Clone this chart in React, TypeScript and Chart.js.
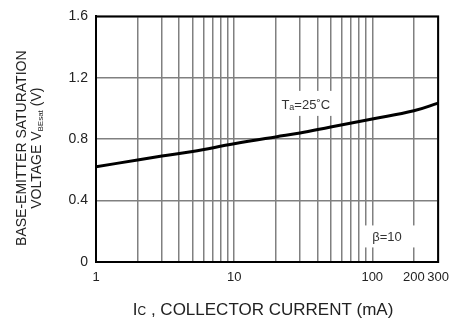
import React, { useEffect, useRef } from "react";
import { Chart, registerables } from "chart.js";

Chart.register(...registerables);

// Collector current (mA) and base-emitter saturation voltage (V)
const IC_MA = [1, 2, 3, 5, 10, 20, 30, 50, 100, 200, 300];
const VBE_SAT = [0.62, 0.665, 0.69, 0.72, 0.77, 0.815, 0.84, 0.88, 0.932, 0.985, 1.035];

const X_GRID = [1, 2, 3, 4, 5, 6, 7, 8, 9, 10, 20, 30, 40, 50, 60, 70, 80, 90, 100, 200, 300];
const X_LABELS = [1, 10, 100, 200, 300];
const Y_TICKS = [0, 0.4, 0.8, 1.2, 1.6];

const FONT = "'Liberation Sans', Arial, sans-serif";

// annotation anchors in data coordinates
const TA_POS = { x: 33, y: 1.03 };
const BETA_POS = { x: 128, y: 0.16 };

const annotationPlugin = {
  id: "annotations",
  afterDraw(chart: any) {
    const { ctx, chartArea, scales } = chart;
    const xs = scales.x;
    const ys = scales.y;
    ctx.save();

    // full frame border
    ctx.strokeStyle = "#000";
    ctx.lineWidth = 2;
    ctx.strokeRect(chartArea.left, chartArea.top, chartArea.right - chartArea.left, chartArea.bottom - chartArea.top);

    // Ta=25˚C label
    {
      const cx = xs.getPixelForValue(TA_POS.x);
      const cy = ys.getPixelForValue(TA_POS.y);
      ctx.fillStyle = "#fff";
      ctx.fillRect(cx - 25, cy - 13, 52, 25);
      ctx.fillStyle = "#333";
      ctx.textBaseline = "alphabetic";
      ctx.textAlign = "left";
      const big = `13px ${FONT}`;
      const small = `9px ${FONT}`;
      ctx.font = big;
      const wT = ctx.measureText("T").width;
      const wRest = ctx.measureText("=25˚C").width;
      ctx.font = small;
      const wa = ctx.measureText("a").width;
      const total = wT + wa + wRest;
      let x = cx - total / 2;
      const base = cy + 5;
      ctx.font = big;
      ctx.fillText("T", x, base);
      x += wT;
      ctx.font = small;
      ctx.fillText("a", x, base + 1);
      x += wa;
      ctx.font = big;
      ctx.fillText("=25˚C", x, base);
    }

    // β=10 label
    {
      const cx = xs.getPixelForValue(BETA_POS.x);
      const cy = ys.getPixelForValue(BETA_POS.y);
      ctx.fillStyle = "#fff";
      ctx.fillRect(cx - 27, cy - 12, 57, 22);
      ctx.fillStyle = "#333";
      ctx.font = `13px ${FONT}`;
      ctx.textAlign = "center";
      ctx.textBaseline = "middle";
      ctx.fillText("β=10", cx, cy);
    }

    // Y axis title (two lines, rotated)
    {
      const cy = (chartArea.top + chartArea.bottom) / 2 + 9;
      ctx.fillStyle = "#222";
      ctx.save();
      ctx.translate(26, cy);
      ctx.rotate(-Math.PI / 2);
      ctx.font = `14px ${FONT}`;
      ctx.textAlign = "center";
      ctx.textBaseline = "alphabetic";
      ctx.fillText("BASE-EMITTER SATURATION", 0, 0);
      ctx.restore();

      ctx.save();
      ctx.translate(41, cy);
      ctx.rotate(-Math.PI / 2);
      ctx.textAlign = "left";
      ctx.textBaseline = "alphabetic";
      const big = `14px ${FONT}`;
      const small = `8px ${FONT}`;
      ctx.font = big;
      const w1 = ctx.measureText("VOLTAGE V").width;
      const w3 = ctx.measureText(" (V)").width;
      ctx.font = small;
      const w2 = ctx.measureText("BEsat").width;
      let x = -(w1 + w2 + w3) / 2;
      ctx.font = big;
      ctx.fillText("VOLTAGE V", x, 0);
      x += w1;
      ctx.font = small;
      ctx.fillText("BEsat", x, 2);
      x += w2;
      ctx.font = big;
      ctx.fillText(" (V)", x, 0);
      ctx.restore();
    }

    // X axis title
    {
      const cx = (chartArea.left + chartArea.right) / 2 - 4;
      const base = 315;
      ctx.fillStyle = "#222";
      ctx.textAlign = "left";
      ctx.textBaseline = "alphabetic";
      const big = `17px ${FONT}`;
      const small = `12px ${FONT}`;
      ctx.font = big;
      const w1 = ctx.measureText("I").width;
      const w3 = ctx.measureText(" , COLLECTOR CURRENT (mA)").width;
      ctx.font = small;
      const w2 = ctx.measureText("C").width;
      let x = cx - (w1 + w2 + w3) / 2;
      ctx.font = big;
      ctx.fillText("I", x, base);
      x += w1;
      ctx.font = small;
      ctx.fillText("C", x, base);
      x += w2;
      ctx.font = big;
      ctx.fillText(" , COLLECTOR CURRENT (mA)", x, base);
    }

    ctx.restore();
  },
};

export default function App() {
  const canvasRef = useRef<HTMLCanvasElement | null>(null);

  useEffect(() => {
    document.body.style.margin = "0";
    const canvas = canvasRef.current;
    if (!canvas) return;
    const chart = new Chart(canvas, {
      type: "line",
      data: {
        datasets: [
          {
            data: IC_MA.map((x, i) => ({ x, y: VBE_SAT[i] })),
            borderColor: "#000",
            borderWidth: 3,
            pointRadius: 0,
            tension: 0.4,
            fill: false,
          },
        ],
      },
      options: {
        responsive: false,
        animation: false,
        devicePixelRatio: 1,
        layout: { padding: { top: 14, right: 16, left: 0, bottom: 0 } },
        plugins: {
          legend: { display: false },
          tooltip: { enabled: false },
        },
        scales: {
          x: {
            type: "logarithmic",
            min: 1,
            max: 300,
            afterBuildTicks: (scale: any) => {
              scale.ticks = X_GRID.map((v) => ({ value: v }));
            },
            afterFit: (scale: any) => {
              scale.height = 58;
            },
            ticks: {
              autoSkip: false,
              maxRotation: 0,
              padding: 8,
              color: "#222",
              font: { family: FONT, size: 13 },
              callback: (v: any) => (X_LABELS.includes(Number(v)) ? String(v) : ""),
            },
            grid: {
              color: "#808080",
              lineWidth: 1.5,
              drawTicks: false,
            },
            border: { color: "#000", width: 2 },
          },
          y: {
            type: "linear",
            min: 0,
            max: 1.6,
            afterBuildTicks: (scale: any) => {
              scale.ticks = Y_TICKS.map((v) => ({ value: v }));
            },
            afterFit: (scale: any) => {
              scale.width = 96;
            },
            ticks: {
              padding: 8,
              color: "#222",
              font: { family: FONT, size: 14 },
              callback: (v: any) => (Number(v) === 0 ? "0" : Number(v).toFixed(1)),
            },
            grid: {
              color: "#808080",
              lineWidth: 1.5,
              drawTicks: false,
            },
            border: { color: "#000", width: 2 },
          },
        },
      },
      plugins: [annotationPlugin],
    } as any);
    return () => chart.destroy();
  }, []);

  return (
    <div style={{ position: "absolute", left: 0, top: 0, width: 457, height: 320, background: "#fff" }}>
      <canvas ref={canvasRef} width={457} height={320} style={{ width: 457, height: 320 }} />
    </div>
  );
}
